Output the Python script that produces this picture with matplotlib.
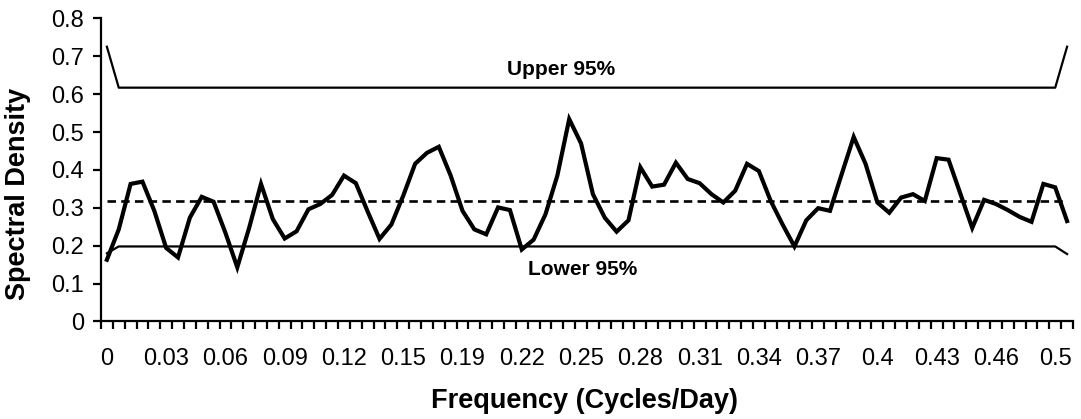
import matplotlib
matplotlib.use("Agg")
import matplotlib.pyplot as plt
import numpy as np

plt.rcParams['font.family'] = ['Liberation Sans', 'DejaVu Sans']

# spectral density estimates, one per frequency bin (82 bins, 0 .. 0.5 cycles/day)
density = [0.163, 0.243, 0.363, 0.369, 0.292, 0.194, 0.169, 0.274, 0.329, 0.316,
           0.234, 0.143, 0.247, 0.363, 0.270, 0.219, 0.238, 0.296, 0.310, 0.334,
           0.385, 0.365, 0.290, 0.218, 0.256, 0.332, 0.416, 0.445, 0.461, 0.385,
           0.292, 0.243, 0.230, 0.301, 0.294, 0.190, 0.216, 0.283, 0.385, 0.534,
           0.470, 0.336, 0.274, 0.237, 0.267, 0.407, 0.356, 0.361, 0.419, 0.376,
           0.365, 0.336, 0.314, 0.345, 0.416, 0.397, 0.318, 0.256, 0.198, 0.267,
           0.299, 0.292, 0.390, 0.487, 0.416, 0.314, 0.287, 0.327, 0.336, 0.318,
           0.431, 0.427, 0.337, 0.247, 0.321, 0.310, 0.294, 0.276, 0.263, 0.363,
           0.354, 0.265]
upper_95 = [0.725] + [0.617] * 80 + [0.725]
lower_95 = [0.180] + [0.198] * 80 + [0.178]
mean_level = 0.318

tick_labels = ['0', '0.03', '0.06', '0.09', '0.12', '0.15', '0.19', '0.22', '0.25',
               '0.28', '0.31', '0.34', '0.37', '0.4', '0.43', '0.46', '0.5']
label_every = 5

n = len(density)
x = np.arange(n)

fig = plt.figure(figsize=(10.81, 4.19), dpi=100)
ax = fig.add_axes([0.0934, 0.2327, 0.8992, 0.7236])

ax.plot(x, upper_95, color='black', lw=1.6)
ax.plot(x, lower_95, color='black', lw=1.6)
ax.plot(x, [mean_level] * n, color='black', lw=1.9, dashes=(3.2, 2.0))
ax.plot(x, density, color='black', lw=3.0, solid_joinstyle='miter')

ax.text(38.3, 0.666, 'Upper 95%', ha='center', va='center', fontsize=15, fontweight='bold')
ax.text(40.1, 0.137, 'Lower 95%', ha='center', va='center', fontsize=15, fontweight='bold')

ax.set_xlim(-0.5, n - 0.5)
ax.set_ylim(0, 0.8)
ax.set_yticks(np.arange(0, 0.81, 0.1))
ax.set_yticklabels(['0', '0.1', '0.2', '0.3', '0.4', '0.5', '0.6', '0.7', '0.8'])

# tick marks on category boundaries, labels under every fifth category
ax.set_xticks(np.arange(-0.5, n, 1.0))
ax.set_xticklabels([])
ax.set_xticks(x[::label_every], minor=True)
ax.set_xticklabels(tick_labels, minor=True)
ax.tick_params(axis='x', which='major', length=6, width=1.6, direction='out')
ax.tick_params(axis='x', which='minor', length=0, pad=19, labelsize=17)
ax.tick_params(axis='y', length=6, width=1.6, direction='out', labelsize=17, pad=6)

for side in ['top', 'right']:
    ax.spines[side].set_visible(False)
for side in ['left', 'bottom']:
    ax.spines[side].set_linewidth(1.6)

ax.set_xlabel('Frequency (Cycles/Day)', fontsize=19.5, fontweight='bold', va='center')
ax.xaxis.set_label_coords(0.497, -0.262)
ax.set_ylabel('Spectral Density', fontsize=19.5, fontweight='bold', va='center')
ax.yaxis.set_label_coords(-0.0854, 0.42)

fig.savefig('out.png', dpi=100)
plt.close(fig)
